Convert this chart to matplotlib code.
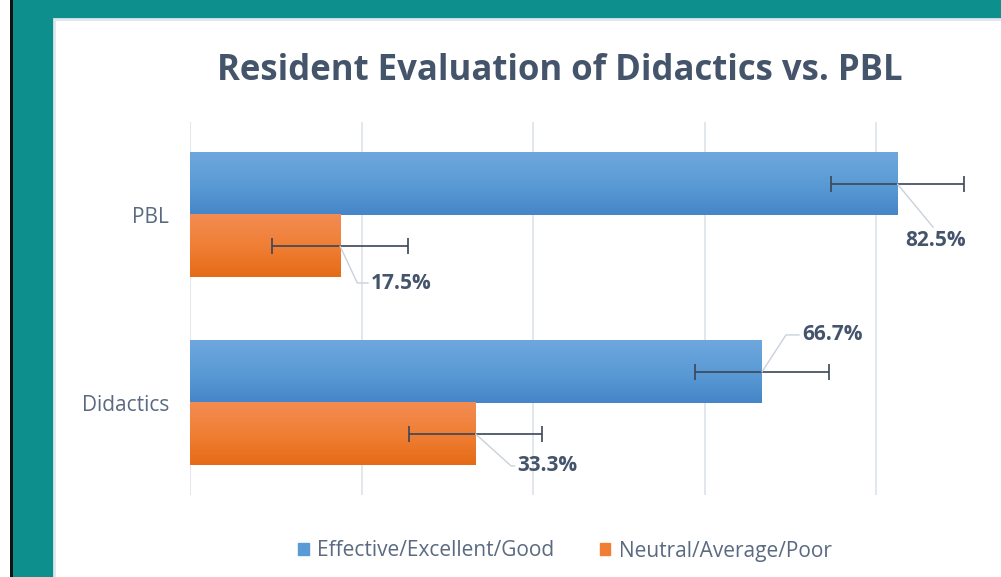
#!/usr/bin/env python3
"""Resident evaluation of didactics vs. PBL - horizontal bar chart."""

import matplotlib
matplotlib.use("Agg")
import matplotlib.pyplot as plt
from matplotlib.colors import LinearSegmentedColormap
from matplotlib.patches import Rectangle
import numpy as np

CATEGORIES = ["Didactics", "PBL"]
SERIES = ["Effective/Excellent/Good", "Neutral/Average/Poor"]
GOOD = [66.7, 82.5]
POOR = [33.3, 17.5]
GOOD_ERR = [7.8, 7.8]
POOR_ERR = [7.8, 7.9]

TEXT = "#44546a"
LABEL = "#5a6a80"
GRID = "#dde3ea"
TEAL = "#0c8f8d"
BLUE = ["#6ea7de", "#5b9bd5", "#4686c8"]
ORANGE = ["#f28c52", "#f07f35", "#e56b18"]

# label offsets in pixels (text anchor relative to bar end), leader angle
LABEL_LAYOUT = {
    ("good", 1): dict(off=(38, -46), ha="center", va="top", relpos=(0.5, 1.0), conn="arc3"),
    ("poor", 1): dict(off=(31, -37), ha="left", va="center", relpos=(0.0, 0.5),
                      conn="angle,angleA=0,angleB=-65,rad=0"),
    ("good", 0): dict(off=(40, 37), ha="left", va="center", relpos=(0.0, 0.5),
                      conn="angle,angleA=0,angleB=57,rad=0"),
    ("poor", 0): dict(off=(42, -32), ha="left", va="center", relpos=(0.0, 0.5),
                      conn="angle,angleA=0,angleB=-42,rad=0"),
}

plt.rcParams["font.family"] = ["Open Sans", "DejaVu Sans"]

fig = plt.figure(figsize=(10.01, 5.77), dpi=100)
fig.patch.set_facecolor(TEAL)

W, H = 1001, 577
# white strip on the far left with dark edge
fig.patches.append(Rectangle((0, 0), 10 / W, 1, transform=fig.transFigure,
                             facecolor="white", edgecolor="none", zorder=-2))
fig.patches.append(Rectangle((10 / W, 0), 2.5 / W, 1, transform=fig.transFigure,
                             facecolor="#111111", edgecolor="none", zorder=-2))
# white chart panel
fig.patches.append(Rectangle((54 / W, -0.01), 1 - 54 / W + 0.01, 1 - 19 / H + 0.01,
                             transform=fig.transFigure,
                             facecolor="white", edgecolor="#dfe6ee", linewidth=2, zorder=-2))

ax = fig.add_axes([190 / W, 1 - 495 / H, 93 * 8.575 / W, (495 - 122) / H])
ax.set_facecolor("none")

y = np.arange(len(CATEGORIES))
h = 0.33
good_bars = ax.barh(y + h / 2, GOOD, height=h, color=BLUE[1], zorder=2)
poor_bars = ax.barh(y - h / 2, POOR, height=h, color=ORANGE[1], zorder=2)

# vertical gradient on each bar
for bars, cols in ((good_bars, BLUE), (poor_bars, ORANGE)):
    cmap = LinearSegmentedColormap.from_list("g", cols)
    grad = np.linspace(0, 1, 64).reshape(-1, 1)
    for b in bars:
        x0, y0 = b.get_x(), b.get_y()
        ax.imshow(grad, cmap=cmap, aspect="auto", origin="upper",
                  extent=(x0, x0 + b.get_width(), y0, y0 + b.get_height()), zorder=2.5)

ax.errorbar(GOOD, y + h / 2, xerr=GOOD_ERR, fmt="none", ecolor="#3b4656",
            elinewidth=1.2, capsize=5.5, capthick=1.2, zorder=4)
ax.errorbar(POOR, y - h / 2, xerr=POOR_ERR, fmt="none", ecolor="#3b4656",
            elinewidth=1.2, capsize=5.5, capthick=1.2, zorder=4)

for key, vals, offs in (("good", GOOD, h / 2), ("poor", POOR, -h / 2)):
    for i, v in enumerate(vals):
        lay = LABEL_LAYOUT[(key, i)]
        ax.annotate(f"{v:.1f}%", xy=(v, y[i] + offs), xytext=lay["off"],
                    textcoords="offset pixels", ha=lay["ha"], va=lay["va"],
                    fontsize=15, fontweight="bold", color=TEXT, zorder=5,
                    arrowprops=dict(arrowstyle="-", color="#c9d1dc", lw=1,
                                    shrinkA=0, shrinkB=0, relpos=lay["relpos"],
                                    connectionstyle=lay["conn"]))

ax.set_xlim(0, 93)
ax.set_ylim(-0.49, 1.495)
ax.set_xticks([0, 20, 40, 60, 80])
ax.set_xticklabels([])
ax.set_yticks(y)
ax.set_yticklabels(CATEGORIES, fontsize=15, color=LABEL)
ax.tick_params(length=0, pad=15)
ax.grid(axis="x", color=GRID, linewidth=1.2, zorder=0)
ax.set_axisbelow(True)
for s in ax.spines.values():
    s.set_visible(False)

fig.text(560 / W, 1 - 71 / H, "Resident Evaluation of Didactics vs. PBL",
         ha="center", va="center", fontsize=25, fontweight="bold", color=TEXT)

handles = [Rectangle((0, 0), 1, 1, color=BLUE[1]), Rectangle((0, 0), 1, 1, color=ORANGE[1])]
fig.legend(handles, SERIES, loc="center", bbox_to_anchor=(565 / W, 1 - 551 / H),
           ncol=2, frameon=False, fontsize=15, labelcolor=LABEL,
           handlelength=0.5, handleheight=0.5, handletextpad=0.4, columnspacing=2.2)

fig.savefig("out.png", dpi=100, facecolor=fig.get_facecolor())
